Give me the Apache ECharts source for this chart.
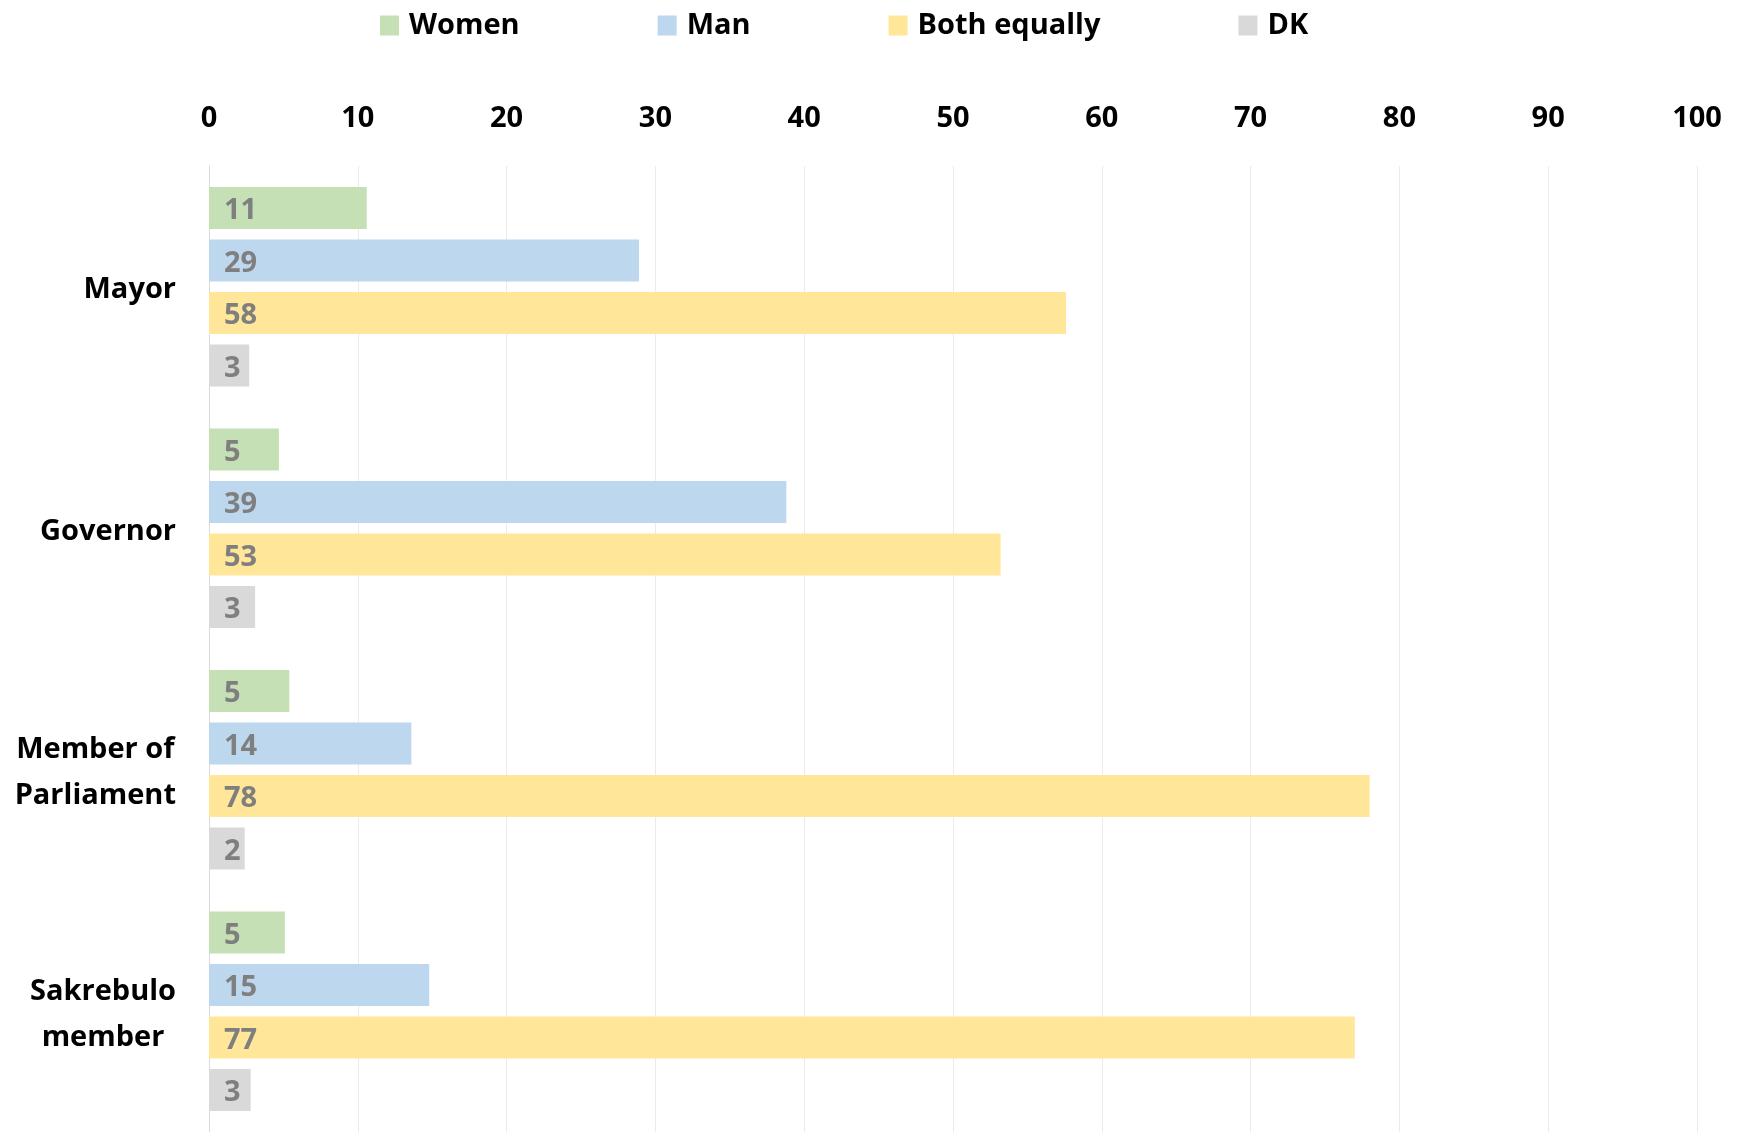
<!DOCTYPE html>
<html>
<head>
<meta charset="utf-8">
<script src="https://cdn.jsdelivr.net/npm/echarts@6/dist/echarts.min.js"></script>
<style>
html,body{margin:0;padding:0;background:#fff;}
#chart{width:1742px;height:1132px;}
</style>
</head>
<body>
<div id="chart"></div>
<script>
var categories = ['Mayor', 'Governor', 'Member of\nParliament', 'Sakrebulo\nmember'];
var seriesNames = ['Women', 'Man', 'Both equally', 'DK'];
var women = [10.6, 4.7, 5.4, 5.1];
var man = [28.9, 38.8, 13.6, 14.8];
var bothEqually = [57.6, 53.2, 78.0, 77.0];
var dk = [2.7, 3.1, 2.4, 2.8];
var xTicks = [0, 10, 20, 30, 40, 50, 60, 70, 80, 90, 100];

var colors = ['#c5e0b4', '#bdd7ee', '#ffe699', '#d9d9d9'];
var FONT = '"Open Sans", "DejaVu Sans", sans-serif';
var values = [women, man, bothEqually, dk];

var chart = echarts.init(document.getElementById('chart'), null, {renderer: 'canvas'});

var series = seriesNames.map(function (name, i) {
  return {
    name: name,
    type: 'bar',
    data: values[i],
    barWidth: 42,
    barGap: '25%',
    itemStyle: {color: colors[i]},
    label: {
      show: true,
      position: 'insideLeft',
      distance: 15,
      offset: [0, 3],
      color: '#7f7f7f',
      fontFamily: FONT,
      fontWeight: 'bold',
      fontSize: 29,
      formatter: function (p) { return Math.round(p.value); }
    }
  };
});

chart.setOption({
  backgroundColor: '#ffffff',
  animation: false,
  color: colors,
  legend: {
    data: seriesNames,
    top: 6,
    left: 375,
    itemWidth: 19,
    itemHeight: 20,
    itemGap: 138,
    icon: 'rect',
    textStyle: {fontFamily: FONT, fontWeight: 'bold', fontSize: 29, color: '#000', padding: [0, 0, 0, 5]}
  },
  grid: {left: 209, right: 45, top: 166, bottom: -3, containLabel: false},
  xAxis: {
    type: 'value',
    position: 'top',
    min: xTicks[0],
    max: xTicks[xTicks.length - 1],
    interval: xTicks[1] - xTicks[0],
    axisLine: {show: false},
    axisTick: {show: false},
    axisLabel: {margin: 33, color: '#000', fontFamily: FONT, fontWeight: 'bold', fontSize: 29},
    splitLine: {show: true, lineStyle: {color: '#ebebeb', width: 1}}
  },
  yAxis: {
    type: 'category',
    data: categories,
    inverse: true,
    axisLine: {show: true, lineStyle: {color: '#d9d9d9', width: 1}},
    axisTick: {show: false},
    axisLabel: {
      margin: 33,
      color: '#000',
      fontFamily: FONT,
      fontWeight: 'bold',
      fontSize: 29,
      padding: [6, 0, 0, 0],
      formatter: function (v) {
        return v.split('\n').map(function (s) { return '{a|' + s + '}'; }).join('\n');
      },
      rich: {
        a: {align: 'center', color: '#000', fontFamily: FONT, fontWeight: 'bold', fontSize: 29, lineHeight: 46}
      }
    }
  },
  series: series
});
</script>
</body>
</html>
